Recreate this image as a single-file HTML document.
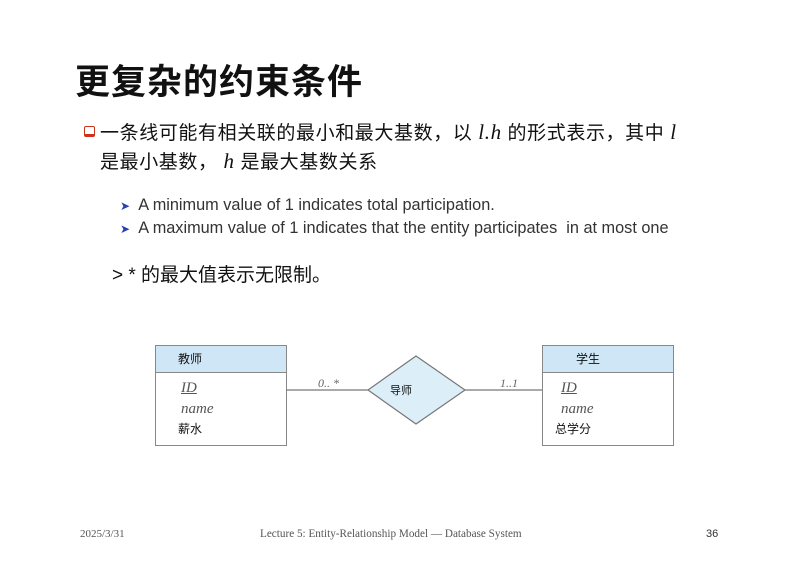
<!DOCTYPE html>
<html><head><meta charset="utf-8"><style>
body{margin:0;width:803px;height:568px;background:#fff;position:relative;overflow:hidden;font-family:"Liberation Sans","Noto Sans CJK SC",sans-serif;color:#111}
.a{position:absolute;white-space:nowrap}
.box{position:absolute;border:1px solid #888;background:#fff}
.hd{height:26px;background:#cfe6f6;border-bottom:1px solid #888;font-size:12px;line-height:26px}
.it{font-family:"Liberation Serif",serif;font-style:italic;color:#555;font-size:15px}
</style></head><body>
<div class="a" style="left:75px;top:54px;font-size:35px;font-weight:bold;letter-spacing:1px">更复杂的约束条件</div>
<div class="a" style="left:84px;top:126px;width:11px;height:11px;border:1.5px solid #d0301a;border-radius:2px;box-sizing:border-box;border-bottom-width:3px"></div>
<div class="a" style="left:100px;top:118px;font-size:19px;letter-spacing:0.6px">一条线可能有相关联的最小和最大基数，以 <i style="font-family:'Liberation Serif',serif;font-size:21px">l.h</i> 的形式表示，其中 <i style="font-family:'Liberation Serif',serif;font-size:21px">l</i></div>
<div class="a" style="left:100px;top:147px;font-size:19px;letter-spacing:0.6px">是最小基数， <i style="font-family:'Liberation Serif',serif;font-size:21px">h</i> 是最大基数关系</div>
<div class="a" style="left:120px;top:196px;font-size:16.3px;color:#333"><span style="color:#2a3fb0;font-size:12px">➤</span>&nbsp; A minimum value of 1 indicates total participation.</div>
<div class="a" style="left:120px;top:219px;font-size:16.3px;color:#333"><span style="color:#2a3fb0;font-size:12px">➤</span>&nbsp; A maximum value of 1 indicates that the entity participates&nbsp; in at most one</div>
<div class="a" style="left:112px;top:260px;font-size:19px">&gt; * 的最大值表示无限制。</div>

<div class="box" style="left:155px;top:345px;width:130px;height:99px"><div class="hd" style="padding-left:22px">教师</div>
<div class="a it" style="left:25px;top:34px;text-decoration:underline">ID</div>
<div class="a it" style="left:25px;top:55px">name</div>
<div class="a" style="left:22px;top:74px;font-size:12px">薪水</div></div>

<div class="box" style="left:542px;top:345px;width:130px;height:99px"><div class="hd" style="padding-left:33px">学生</div>
<div class="a it" style="left:18px;top:34px;text-decoration:underline">ID</div>
<div class="a it" style="left:18px;top:55px">name</div>
<div class="a" style="left:12px;top:74px;font-size:12px">总学分</div></div>

<svg class="a" style="left:0;top:0" width="803" height="568">
<line x1="286" y1="390" x2="368" y2="390" stroke="#777" stroke-width="1.2"/>
<line x1="465" y1="390" x2="542" y2="390" stroke="#777" stroke-width="1.2"/>
<polygon points="368,390 416,356 465,390 416,424" fill="#dceef8" stroke="#777" stroke-width="1.2"/>
<text x="318" y="387" font-family="Liberation Serif" font-style="italic" font-size="12" fill="#666">0.. *</text>
<text x="500" y="387" font-family="Liberation Serif" font-style="italic" font-size="12" fill="#666">1..1</text>
<text x="390" y="394" font-family="Liberation Sans,Noto Sans CJK SC" font-size="11" fill="#111">导师</text>
</svg>

<div class="a" style="left:80px;top:528px;font-size:11px;color:#555;font-family:'Liberation Serif',serif">2025/3/31</div>
<div class="a" style="left:260px;top:528px;font-size:11.2px;color:#555;font-family:'Liberation Serif',serif">Lecture 5: Entity-Relationship Model — Database System</div>
<div class="a" style="left:706px;top:528px;font-size:11px;color:#333">36</div>
</body></html>
